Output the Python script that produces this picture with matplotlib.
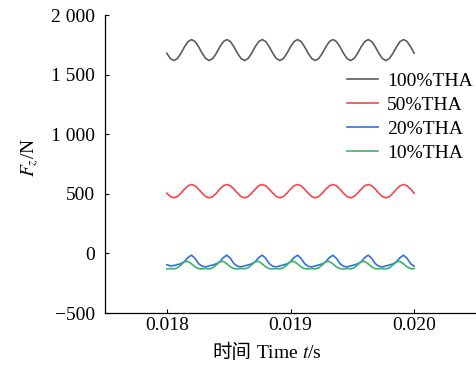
import numpy as np
import matplotlib
matplotlib.use('Agg')
import matplotlib.pyplot as plt
from matplotlib.ticker import FuncFormatter

plt.rcParams['font.family'] = ['Liberation Serif', 'Noto Sans CJK SC']
plt.rcParams['mathtext.fontset'] = 'stix'
plt.rcParams['axes.unicode_minus'] = True

# sample times (s), 71 samples between 0.018 and 0.020
t = np.linspace(0.018, 0.020, 71)

fz_100 = [1679, 1635, 1618, 1635, 1679, 1733, 1777, 1794, 1777, 1733,
          1679, 1635, 1618, 1635, 1679, 1733, 1777, 1794, 1777, 1733,
          1679, 1635, 1618, 1635, 1679, 1733, 1777, 1794, 1777, 1733,
          1679, 1635, 1618, 1635, 1679, 1733, 1777, 1794, 1777, 1733,
          1679, 1635, 1618, 1635, 1679, 1733, 1777, 1794, 1777, 1733,
          1679, 1635, 1618, 1635, 1679, 1733, 1777, 1794, 1777, 1733,
          1679, 1635, 1618, 1635, 1679, 1733, 1777, 1794, 1777, 1733,
          1679]
fz_50 = [505, 477, 466, 477, 505, 539, 567, 578, 567, 539,
         505, 477, 466, 477, 505, 539, 567, 578, 567, 539,
         505, 477, 466, 477, 505, 539, 567, 578, 567, 539,
         505, 477, 466, 477, 505, 539, 567, 578, 567, 539,
         505, 477, 466, 477, 505, 539, 567, 578, 567, 539,
         505, 477, 466, 477, 505, 539, 567, 578, 567, 539,
         505, 477, 466, 477, 505, 539, 567, 578, 567, 539,
         505]
fz_20 = [-95, -105, -102, -94, -86, -68, -34, -15, -42, -86,
         -108, -113, -105, -97, -88, -70, -35, -15, -42, -86,
         -108, -113, -105, -97, -88, -70, -35, -15, -42, -86,
         -108, -113, -105, -97, -88, -70, -35, -15, -42, -86,
         -108, -113, -105, -97, -88, -70, -35, -15, -42, -86,
         -108, -113, -105, -97, -88, -70, -35, -15, -42, -86,
         -108, -113, -105, -97, -88, -70, -35, -15, -42, -86,
         -108]
fz_10 = [-130, -127, -130, -121, -97, -70, -67, -88, -113, -128,
         -130, -127, -130, -121, -97, -70, -67, -88, -113, -128,
         -130, -127, -130, -121, -97, -70, -67, -88, -113, -128,
         -130, -127, -130, -121, -97, -70, -67, -88, -113, -128,
         -130, -127, -130, -121, -97, -70, -67, -88, -113, -128,
         -130, -127, -130, -121, -97, -70, -67, -88, -113, -128,
         -130, -127, -130, -121, -97, -70, -67, -88, -113, -128,
         -128]

labels = ['100%THA', '50%THA', '20%THA', '10%THA']
colors = ['#5c5c5c', '#f4474b', '#2f6fe0', '#3db26e']
yticks = [-500, 0, 500, 1000, 1500, 2000]
xticks = [0.018, 0.019, 0.020]

fig = plt.figure(figsize=(4.76, 3.72), dpi=100)
ax = fig.add_axes([105 / 476, 1 - 313 / 372, 1 - 105 / 476, (313 - 15) / 372])

for y, lab, c in zip([fz_100, fz_50, fz_20, fz_10], labels, colors):
    ax.plot(t, y, color=c, lw=1.2, label=lab)

ax.set_xlim(0.0175, 0.0205)
ax.set_ylim(-500, 2000)
ax.set_xticks(xticks)
ax.set_yticks(yticks)
ax.xaxis.set_major_formatter(FuncFormatter(lambda v, p: f'{v:.3f}'))


def yfmt(v, p):
    s = f'{abs(int(round(v))):,}'.replace(',', ' ')
    return ('\u2212' + s) if v < 0 else s


ax.yaxis.set_major_formatter(FuncFormatter(yfmt))
ax.tick_params(axis='both', direction='in', length=3, width=0.8, labelsize=14)
ax.tick_params(axis='y', pad=7)
ax.tick_params(axis='x', pad=3)
for s in ['top', 'right']:
    ax.spines[s].set_visible(False)
for s in ['left', 'bottom']:
    ax.spines[s].set_linewidth(0.9)

# axis labels
fig.text(30 / 476, 1 - 157 / 372, '$F_z$/N', rotation=90, ha='center', va='center', fontsize=14)
fig.text(251 / 476, 1 - 358 / 372, '时间', ha='right', va='baseline', fontsize=14,
         family=['Noto Sans CJK SC'])
fig.text(256 / 476, 1 - 358 / 372, 'Time $t$/s', ha='left', va='baseline', fontsize=14)

ax.legend(loc='upper left', bbox_to_anchor=(347 / 476, 1 - 72 / 372),
          bbox_transform=fig.transFigure, frameon=False, fontsize=14,
          borderpad=0, borderaxespad=0, handlelength=1.6, handletextpad=0.45,
          labelspacing=0.34)

fig.savefig('out.png', dpi=100)
